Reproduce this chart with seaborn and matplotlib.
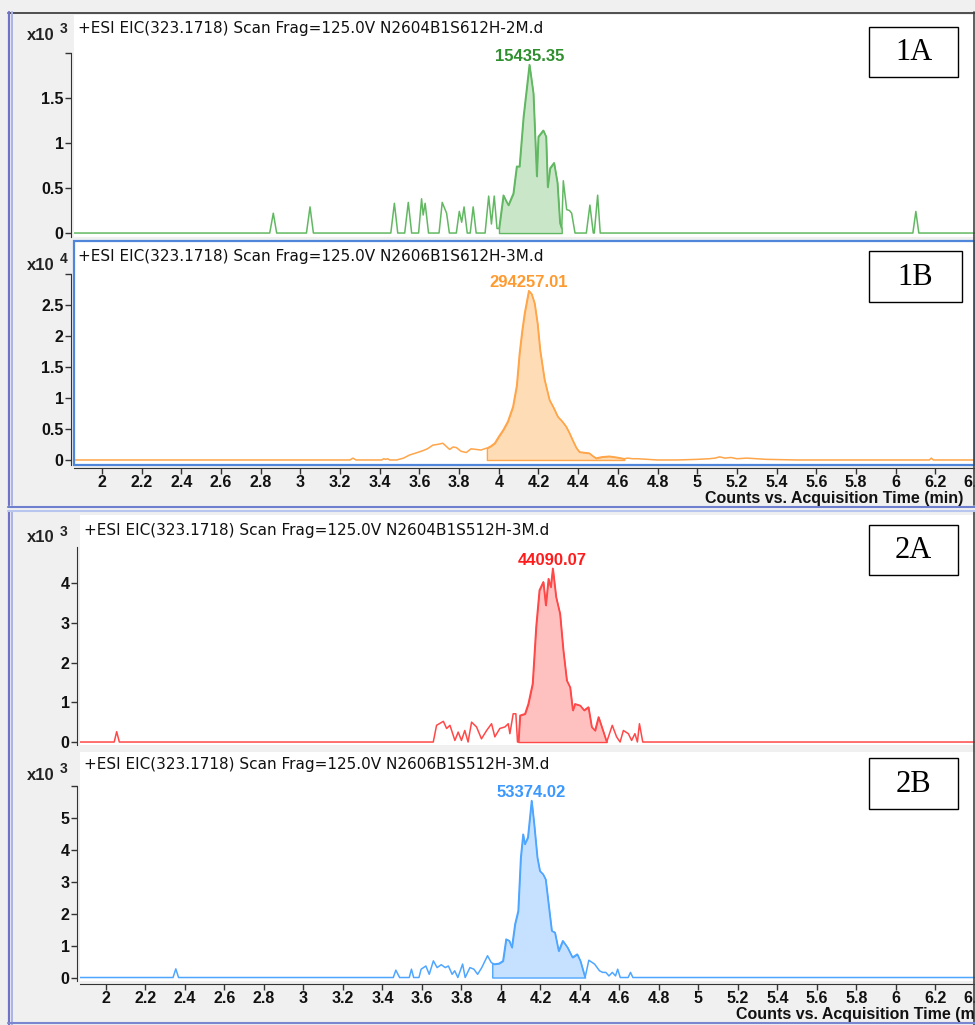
import numpy as np
import pandas as pd
import seaborn as sns
import matplotlib.pyplot as plt
from matplotlib.lines import Line2D
from matplotlib.patches import Rectangle

W, H = 975, 1025

# ---- chromatogram traces (time in min, intensity in units of the axis exponent) ----
# 1A  (x10^3)
t_1a = [1.85, 2.845, 2.863, 2.880, 3.030, 3.048, 3.065, 3.455, 3.473, 3.490,
        3.525, 3.543, 3.560, 3.595, 3.610, 3.618, 3.628, 3.645, 3.698, 3.714,
        3.736, 3.750, 3.785, 3.800, 3.812, 3.824, 3.840, 3.855, 3.870, 3.885,
        3.930, 3.948, 3.962, 3.976, 3.990, 4.000, 4.022, 4.035, 4.047, 4.072,
        4.089, 4.103, 4.123, 4.153, 4.173, 4.190, 4.198, 4.223, 4.237, 4.245,
        4.257, 4.277, 4.294, 4.307, 4.316, 4.324, 4.341, 4.355, 4.366, 4.383,
        4.440, 4.458, 4.475, 4.480, 4.497, 4.510, 6.085, 6.100, 6.115, 6.45]
v_1a = [0, 0, 0.22, 0, 0, 0.29, 0, 0, 0.33, 0,
        0, 0.34, 0, 0, 0.38, 0.20, 0.33, 0, 0, 0.34,
        0.22, 0, 0, 0.24, 0.12, 0.29, 0, 0, 0.29, 0,
        0, 0.41, 0.10, 0.41, 0.05, 0.05, 0.42, 0.36, 0.31, 0.44,
        0.74, 0.74, 1.29, 1.87, 1.55, 0.63, 1.07, 1.14, 1.07, 0.51,
        0.72, 0.78, 0.56, 0.11, 0.05, 0.58, 0.26, 0.25, 0.22, 0,
        0, 0.31, 0, 0, 0.42, 0, 0, 0.24, 0, 0]

# 1B  (x10^4)
t_1b = [1.85, 3.250, 3.265, 3.280, 3.410, 3.420, 3.430, 3.440, 3.450, 3.485,
        3.520, 3.550, 3.580, 3.617, 3.640, 3.668, 3.690, 3.718, 3.735, 3.752,
        3.770, 3.786, 3.810, 3.836, 3.860, 3.886, 3.910, 3.937, 3.940, 3.958,
        3.979, 4.000, 4.021, 4.045, 4.071, 4.090, 4.104, 4.118, 4.130, 4.151,
        4.165, 4.180, 4.195, 4.208, 4.230, 4.255, 4.275, 4.297, 4.320, 4.339,
        4.355, 4.372, 4.390, 4.406, 4.430, 4.456, 4.475, 4.490, 4.520, 4.557,
        4.600, 4.632, 4.650, 4.674, 4.700, 4.750, 4.800, 4.900, 5.000, 5.060,
        5.090, 5.113, 5.140, 5.170, 5.200, 5.250, 5.300, 5.350, 5.500, 6.000,
        6.170, 6.180, 6.190, 6.45]
v_1b = [0, 0, 0.03, 0, 0, 0.02, 0.01, 0.02, 0, 0,
        0.03, 0.08, 0.11, 0.15, 0.18, 0.24, 0.25, 0.27, 0.22, 0.17,
        0.21, 0.20, 0.14, 0.12, 0.18, 0.17, 0.16, 0.19, 0.19, 0.22,
        0.27, 0.38, 0.48, 0.62, 0.86, 1.20, 1.72, 2.10, 2.37, 2.73,
        2.68, 2.53, 2.20, 1.77, 1.30, 0.97, 0.85, 0.70, 0.62, 0.54,
        0.44, 0.32, 0.20, 0.13, 0.12, 0.11, 0.06, 0.03, 0.05, 0.06,
        0.04, 0.02, 0.03, 0.02, 0.02, 0.01, 0, 0, 0.01, 0.02,
        0.03, 0.05, 0.03, 0.04, 0.02, 0.03, 0.02, 0.01, 0, 0,
        0, 0.03, 0, 0]

# 2A  (x10^3)
t_2a = [1.85, 2.035, 2.047, 2.060, 3.584, 3.600, 3.633, 3.649, 3.665, 3.689,
        3.705, 3.721, 3.737, 3.753, 3.770, 3.794, 3.818, 3.843, 3.867, 3.883,
        3.907, 3.932, 3.948, 3.956, 3.972, 3.985, 3.993, 3.997, 4.005, 4.029,
        4.045, 4.066, 4.083, 4.099, 4.118, 4.130, 4.143, 4.154, 4.164, 4.180,
        4.199, 4.215, 4.232, 4.248, 4.261, 4.272, 4.297, 4.316, 4.337, 4.353,
        4.369, 4.386, 4.402, 4.426, 4.453, 4.474, 4.491, 4.507, 4.531, 4.547,
        4.563, 4.575, 4.585, 4.601, 6.45]
v_2a = [0, 0, 0.26, 0, 0, 0.42, 0.52, 0.34, 0.42, 0.04,
        0.25, 0.04, 0.29, 0, 0.50, 0.38, 0.08, 0.29, 0.46, 0.13,
        0.34, 0.38, 0.46, 0.21, 0.71, 0.71, 0, 0, 0.67, 0.71,
        0.96, 1.47, 2.90, 3.82, 4.03, 3.44, 4.11, 3.90, 4.37, 3.65,
        3.23, 2.31, 1.55, 1.38, 0.80, 0.96, 0.92, 0.80, 0.88, 0.38,
        0.29, 0.63, 0.38, 0, 0.42, 0.13, 0, 0.29, 0.21, 0.04,
        0.21, 0, 0.46, 0, 0]

# 2B  (x10^3)
t_2b = [1.85, 2.340, 2.354, 2.368, 3.455, 3.468, 3.487, 3.536, 3.547, 3.558,
        3.585, 3.596, 3.620, 3.637, 3.658, 3.677, 3.698, 3.718, 3.734, 3.753,
        3.766, 3.782, 3.806, 3.819, 3.843, 3.863, 3.882, 3.903, 3.932, 3.951,
        3.956, 3.966, 3.990, 4.010, 4.026, 4.042, 4.055, 4.071, 4.087, 4.100,
        4.112, 4.120, 4.136, 4.155, 4.168, 4.184, 4.197, 4.213, 4.226, 4.241,
        4.257, 4.273, 4.292, 4.313, 4.337, 4.362, 4.386, 4.402, 4.426, 4.445,
        4.474, 4.499, 4.515, 4.531, 4.547, 4.564, 4.580, 4.591, 4.604, 4.644,
        4.656, 4.668, 6.45]
v_2b = [0, 0, 0.27, 0, 0, 0.23, 0, 0, 0.26, 0,
        0, 0.26, 0.36, 0.10, 0.52, 0.31, 0.40, 0.31, 0.36, 0.10,
        0.21, 0, 0.42, 0, 0.31, 0.26, 0.10, 0.31, 0.68, 0.47,
        0.45, 0.42, 0.44, 0.52, 1.20, 1.15, 0.94, 1.67, 2.08, 3.75,
        4.48, 4.17, 4.38, 5.53, 4.79, 3.75, 3.33, 3.23, 3.07, 2.29,
        1.46, 1.41, 0.83, 1.15, 0.94, 0.63, 0.73, 0.52, 0.0, 0.54,
        0.42, 0.21, 0.16, 0.16, 0.05, 0.16, 0.05, 0.26, 0, 0,
        0.16, 0, 0]

# integrated peak windows
fill_1a = (4.000, 4.316)
fill_1b = (3.940, 4.632)
fill_2a = (3.997, 4.426)
fill_2b = (3.956, 4.426)

peak_labels = ['15435.35', '294257.01', '44090.07', '53374.02']
panel_tags = ['1A', '1B', '2A', '2B']
headers = ['+ESI EIC(323.1718) Scan Frag=125.0V N2604B1S612H-2M.d',
           '+ESI EIC(323.1718) Scan Frag=125.0V N2606B1S612H-3M.d',
           '+ESI EIC(323.1718) Scan Frag=125.0V N2604B1S512H-3M.d',
           '+ESI EIC(323.1718) Scan Frag=125.0V N2606B1S512H-3M.d']
exponents = ['3', '4', '3', '3']
xlabel = 'Counts vs. Acquisition Time (min)'

sns.set_style("white")
plt.rcParams['font.family'] = ['Liberation Sans', 'DejaVu Sans']

fig = plt.figure(figsize=(W / 100, H / 100), dpi=100, facecolor='#f0f0f0')


def px_axes(l, t, r, b):
    return fig.add_axes([l / W, 1 - b / H, (r - l) / W, (b - t) / H])


def fig_line(x0, y0, x1, y1, color, lw):
    fig.add_artist(Line2D([x0 / W, x1 / W], [1 - y0 / H, 1 - y1 / H],
                          color=color, lw=lw, transform=fig.transFigure))


def fig_text(x, y, s, **kw):
    return fig.text(x / W, 1 - y / H, s, **kw)


def tag_box(x0, y0, x1, y1, s):
    fig.add_artist(Rectangle((x0 / W, 1 - y1 / H), (x1 - x0) / W, (y1 - y0) / H,
                             transform=fig.transFigure, fc='white', ec='black', lw=1.0))
    fig_text((x0 + x1) / 2, (y0 + y1) / 2 + 1, s, ha='center', va='center',
             fontsize=22, family=['Liberation Serif', 'DejaVu Serif'], color='black')


panels = [
    dict(t=t_1a, v=v_1a, fill=fill_1a, box=(74, 15, 975, 237), xlim=(1.859, 6.398),
         ylim=(-0.044, 2.42), yticks=[0, 0.5, 1, 1.5, 2.0], ytop=2.0, xaxis=False,
         line='#62b862', shade='#c9e6c9', tag='#2e8f2e', frame=None,
         head_y=28, exp_y=35, tagbox=(869, 27, 958, 77)),
    dict(t=t_1b, v=v_1b, fill=fill_1b, box=(74, 241, 975, 465), xlim=(1.859, 6.398),
         ylim=(-0.081, 3.532), yticks=[0, 0.5, 1, 1.5, 2, 2.5, 3.0], ytop=3.0, xaxis=True,
         line='#ffa54a', shade='#fedcb6', tag='#ff9a30', frame='#4f86d9',
         head_y=257, exp_y=265, tagbox=(869, 251, 962, 302)),
    dict(t=t_2a, v=v_2a, fill=fill_2a, box=(80, 515, 975, 745), xlim=(1.869, 6.214),
         ylim=(-0.075, 5.711), yticks=[0, 1, 2, 3, 4], ytop=4.9, xaxis=False,
         line='#ff4848', shade='#ffc0c0', tag='#ff1c1c', frame=None,
         head_y=530, exp_y=538, tagbox=(869, 525, 958, 575)),
    dict(t=t_2b, v=v_2b, fill=fill_2b, box=(80, 752, 975, 981), xlim=(1.869, 6.214),
         ylim=(-0.109, 7.047), yticks=[0, 1, 2, 3, 4, 5, 6], ytop=6.0, xaxis=True,
         line='#4fa6ff', shade='#c6e1ff', tag='#3a98ff', frame=None,
         head_y=765, exp_y=775, tagbox=(869, 758, 958, 809)),
]

xt = np.round(np.arange(2.0, 6.41, 0.2), 1)
xt_labels = [f"{x:g}" for x in xt]

for i, p in enumerate(panels):
    ax = px_axes(*p['box'])
    ax.set_facecolor('white')
    df = pd.DataFrame({'t': p['t'], 'v': p['v']})
    seg = df[(df.t >= p['fill'][0]) & (df.t <= p['fill'][1])]
    ax.fill_between(seg.t, seg.v, 0, facecolor=p['shade'], edgecolor=p['line'], lw=1.0)
    sns.lineplot(data=df, x='t', y='v', ax=ax, color=p['line'], lw=1.1, estimator=None)

    k = df.v.idxmax()
    ax.annotate(peak_labels[i], (df.t[k], df.v[k]), xytext=(0, 0.5), textcoords='offset points',
                ha='center', va='bottom', color=p['tag'], fontsize=12, fontweight='bold')

    ax.set_xlim(*p['xlim'])
    ax.set_ylim(*p['ylim'])
    ax.set_xlabel('')
    ax.set_ylabel('')

    for side in ['top', 'right', 'bottom', 'left']:
        ax.spines[side].set_visible(False)
    ax.spines['left'].set_visible(True)
    ax.spines['left'].set_color('#333333')
    ax.spines['left'].set_position(('outward', 2))
    ax.spines['left'].set_bounds(p['ylim'][0], p['ytop'])

    ax.set_yticks(p['yticks'])
    ylabs = [f"{y:g}" for y in p['yticks']]
    if p['yticks'][-1] == p['ytop']:
        ylabs[-1] = ''
    ax.set_yticklabels(ylabs)
    ax.tick_params(axis='y', left=True, direction='out', length=4, width=1,
                   color='#333333', labelsize=11.5, labelcolor='#111111', pad=1.5)

    if p['xaxis']:
        ax.spines['bottom'].set_visible(True)
        ax.spines['bottom'].set_color('#333333')
        ax.spines['bottom'].set_position(('outward', 2))
        ax.set_xticks(xt)
        ax.set_xticklabels(xt_labels)
        ax.tick_params(axis='x', bottom=True, direction='out', length=4, width=1,
                       color='#333333', labelsize=11.5, labelcolor='#111111', pad=1)
    else:
        ax.set_xticks([])

    for lbl in ax.get_xticklabels() + ax.get_yticklabels():
        lbl.set_fontweight('bold')

    if p['frame']:
        ax.add_patch(Rectangle((0, 0), 1, 1, transform=ax.transAxes, fill=False,
                               ec=p['frame'], lw=1.6, clip_on=False, zorder=5))

    fig_text(p['box'][0] + 4, p['head_y'], headers[i], ha='left', va='center',
             fontsize=11, family=['DejaVu Sans'], color='#111111')
    fig_text(41, p['exp_y'], 'x10', ha='center', va='center', fontsize=12,
             fontweight='bold', color='#222222')
    fig_text(64, p['exp_y'] - 6, exponents[i], ha='center', va='center', fontsize=10,
             fontweight='bold', color='#222222')
    tag_box(*p['tagbox'], panel_tags[i])

fig_text(963, 499, xlabel, ha='right', va='center', fontsize=11.5, fontweight='bold', color='#111111')
fig_text(994, 1015, xlabel, ha='right', va='center', fontsize=11.5, fontweight='bold', color='#111111')

# window frame decorations
fig_line(8, 12.5, 975, 12.5, '#333333', 1.2)
for y0, y1 in [(12, 505), (511, 1025)]:
    fig_line(9, y0, 9, y1, '#6f72c8', 1.6)
    fig_line(12, y0, 12, y1, '#aab4e8', 1.4)
    fig_line(973.5, y0, 973.5, y1, '#444444', 1.2)
fig_line(8, 507, 975, 507, '#6f7fd0', 1.5)
fig_line(8, 511, 975, 511, '#b8c6ef', 1.5)
fig_line(8, 1022.5, 975, 1022.5, '#7a86d0', 1.5)

fig.savefig('out.png', dpi=100, facecolor=fig.get_facecolor())
